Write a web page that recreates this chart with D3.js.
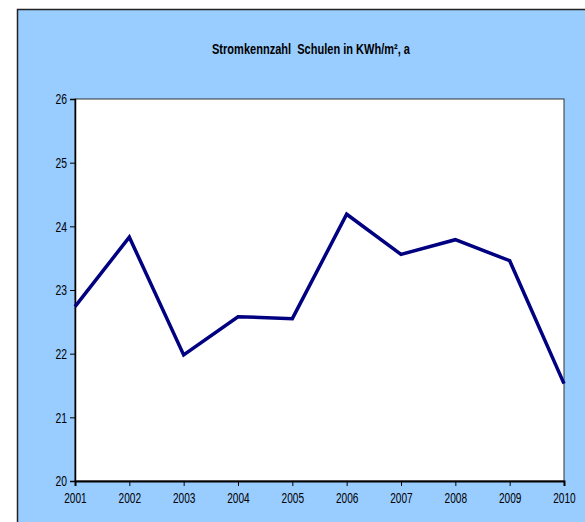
<!DOCTYPE html>
<html>
<head>
<meta charset="utf-8">
<script src="https://cdn.jsdelivr.net/npm/d3@7"></script>
<style>
  html, body { margin: 0; padding: 0; background: #fff; }
  svg { display: block; }
  text { font-family: "Liberation Sans", Arial, sans-serif; fill: #000; }
</style>
</head>
<body>
<svg></svg>
<script>
const width = 585;
const height = 522;

// ---- data ----
const years = ['2001', '2002', '2003', '2004', '2005', '2006', '2007', '2008', '2009', '2010'];
const values = [22.74, 23.83, 21.98, 22.58, 22.55, 24.19, 23.56, 23.79, 23.46, 21.53];
const yTicks = [20, 21, 22, 23, 24, 25, 26];
const title = 'Stromkennzahl  Schulen in KWh/m², a';

const plot = { left: 75, top: 99, right: 564, bottom: 481 };

const svg = d3.select('svg')
  .attr('width', width)
  .attr('height', height);

// chart area background + frame
svg.append('rect')
  .attr('x', 17.5).attr('y', 9.5)
  .attr('width', width).attr('height', height)
  .attr('fill', '#99ccff')
  .attr('stroke', '#222')
  .attr('stroke-width', 1.5);

// title
svg.append('text')
  .attr('x', 311).attr('y', 54)
  .attr('text-anchor', 'middle')
  .attr('font-size', 14)
  .attr('font-weight', 'bold')
  .attr('textLength', 198)
  .attr('lengthAdjust', 'spacingAndGlyphs')
  .style('white-space', 'pre')
  .text(title);

// scales
const x = d3.scalePoint()
  .domain(years)
  .range([plot.left, plot.right]);

const y = d3.scaleLinear()
  .domain([20, 26])
  .range([plot.bottom, plot.top]);

// plot area
svg.append('rect')
  .attr('x', plot.left).attr('y', plot.top)
  .attr('width', plot.right - plot.left)
  .attr('height', plot.bottom - plot.top)
  .attr('fill', '#fff')
  .attr('stroke', '#333')
  .attr('stroke-width', 1);

// axes
const yAxis = svg.append('g')
  .attr('transform', `translate(${plot.left},0)`)
  .call(d3.axisLeft(y).tickValues(yTicks).tickSize(5).tickPadding(3).tickFormat(d3.format('d')));

const xAxis = svg.append('g')
  .attr('transform', `translate(0,${plot.bottom})`)
  .call(d3.axisBottom(x).tickSize(5).tickPadding(6));

[yAxis, xAxis].forEach(g => {
  g.select('.domain').attr('stroke', '#000').attr('stroke-width', 1.5);
  g.selectAll('.tick line').attr('stroke', '#000');
  g.selectAll('.tick text')
    .attr('font-size', 15)
    .attr('font-family', '"Liberation Sans", Arial, sans-serif')
    .attr('lengthAdjust', 'spacingAndGlyphs');
});
xAxis.select('.domain').attr('stroke-width', 2);
yAxis.selectAll('.tick text').attr('textLength', 11.5);
xAxis.selectAll('.tick text').attr('textLength', 22.5);

// line
const line = d3.line()
  .x((d, i) => x(years[i]))
  .y(d => y(d));

svg.append('path')
  .datum(values)
  .attr('d', line)
  .attr('fill', 'none')
  .attr('stroke', '#000080')
  .attr('stroke-width', 3.5)
  .attr('stroke-linejoin', 'miter');
</script>
</body>
</html>
